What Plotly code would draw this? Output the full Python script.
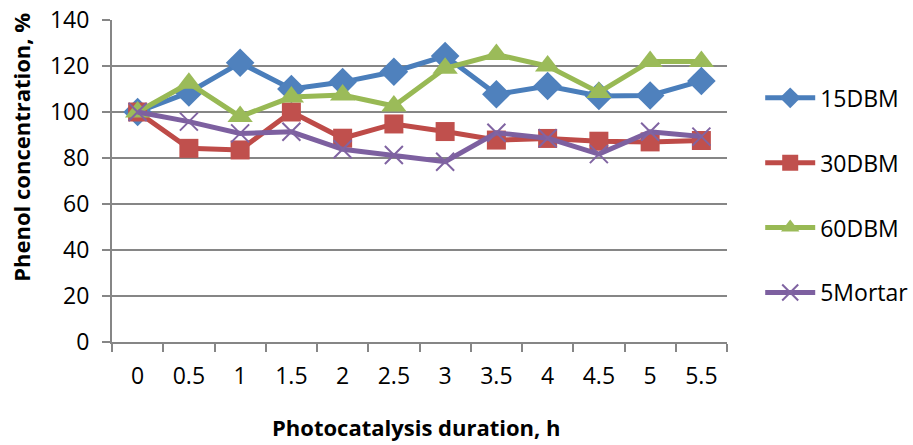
import plotly.graph_objects as go

hours = ["0", "0.5", "1", "1.5", "2", "2.5", "3", "3.5", "4", "4.5", "5", "5.5"]
dbm15 = [100, 108.5, 121.4, 110.0, 113.0, 117.5, 124.3, 107.7, 111.3, 107.0, 107.2, 113.5]
dbm30 = [100, 84.2, 83.5, 100.0, 88.6, 94.8, 91.5, 87.8, 88.5, 87.3, 87.0, 87.6]
dbm60 = [100, 112.5, 98.0, 106.5, 107.4, 102.6, 119.0, 125.0, 120.0, 108.5, 122.0, 122.0]
mortar5 = [100, 95.8, 90.7, 91.4, 83.8, 81.3, 78.4, 91.0, 88.6, 81.7, 91.4, 89.3]

names = ["15DBM", "30DBM", "60DBM", "5Mortar"]
line_colors = ["#4A7EBB", "#BE4B48", "#98B954", "#7D60A0"]
fill_colors = ["#4F81BD", "#C0504D", "#9BBB59", "#8064A2"]
symbols = ["diamond", "square", "triangle-up", "x-thin"]
sizes = [22, 19, 22, 18]

FONT = "Open Sans"
TS = 23
fig = go.Figure()
for i, (name, vals) in enumerate(zip(names, [dbm15, dbm30, dbm60, mortar5])):
    if symbols[i] == "x-thin":
        marker = dict(symbol="x-thin", size=sizes[i],
                      line=dict(color=fill_colors[i], width=2))
    else:
        marker = dict(symbol=symbols[i], size=sizes[i], color=fill_colors[i],
                      line=dict(width=0))
    fig.add_trace(go.Scatter(
        x=hours, y=vals, name=name, mode="lines+markers",
        line=dict(color=line_colors[i], width=5),
        marker=marker, legendgroup=name,
    ))

fig.update_layout(
    width=913, height=445,
    margin=dict(l=112, r=186, t=20, b=103, autoexpand=False),
    paper_bgcolor="white", plot_bgcolor="white",
    font=dict(family=FONT, size=TS, color="#000000"),
    showlegend=True,
    legend=dict(x=1.054, y=0.825, xanchor="left", yanchor="top",
                tracegroupgap=32, itemwidth=50,
                font=dict(size=TS, family=FONT),
                bgcolor="rgba(0,0,0,0)"),
    xaxis=dict(
        type="category", tickson="boundaries", ticks="outside", ticklen=8,
        range=[-0.5, 11.5], autorange=False,
        tickcolor="#868686", tickwidth=2,
        showline=True, linecolor="#868686", linewidth=2,
        showgrid=False, ticklabelstandoff=12,
        tickfont=dict(size=TS, family=FONT),
    ),
    yaxis=dict(
        range=[0, 140], dtick=20, ticks="outside", ticklen=8,
        tickcolor="#868686", tickwidth=2,
        showline=True, linecolor="#868686", linewidth=2,
        showgrid=True, gridcolor="#868686", gridwidth=2,
        zeroline=False, ticklabelstandoff=8,
        tickfont=dict(size=TS, family=FONT),
    ),
    annotations=[
        dict(text="<b>Phenol concentration, %</b>", textangle=-90,
             xref="paper", yref="paper", x=-0.147, y=0.605,
             xanchor="center", yanchor="middle", showarrow=False,
             font=dict(size=22, family=FONT)),
        dict(text="<b>Photocatalysis duration, h</b>",
             xref="paper", yref="paper", x=0.495, y=-0.265,
             xanchor="center", yanchor="middle", showarrow=False,
             font=dict(size=22, family=FONT)),
    ],
)

fig.write_html("out.html")
